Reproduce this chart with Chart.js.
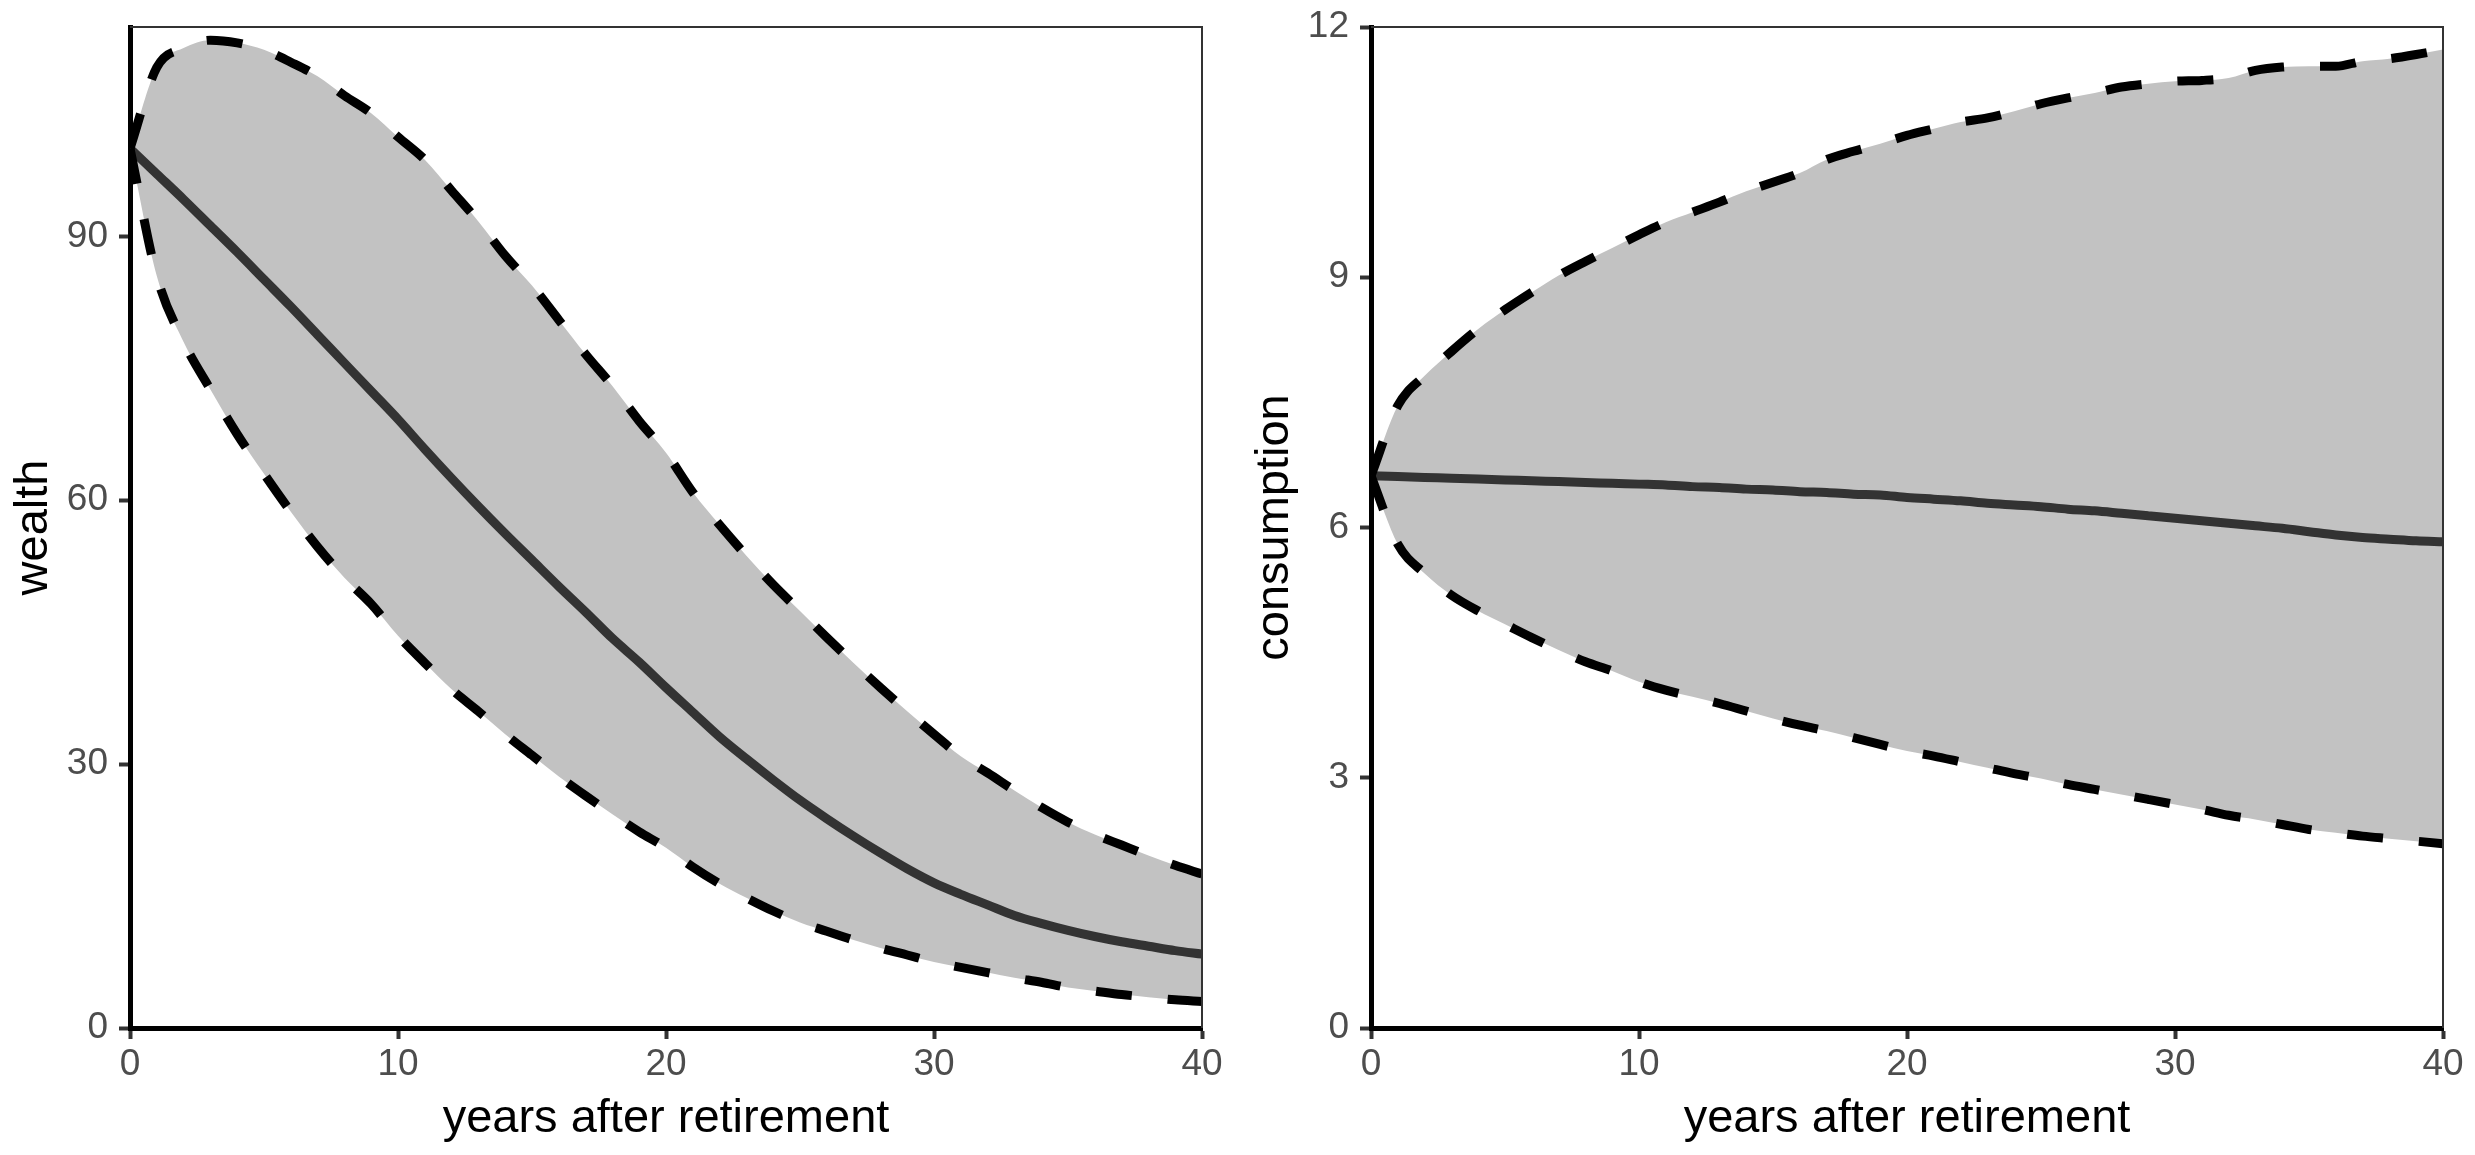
<!DOCTYPE html>
<html>
<head>
<meta charset="utf-8">
<script src="https://cdn.jsdelivr.net/npm/chart.js@4.4.1/dist/chart.umd.min.js"></script>
<style>
  html, body { margin: 0; padding: 0; background: #fff; }
  body { width: 2475px; height: 1155px; position: relative; overflow: hidden; }
  canvas { position: absolute; top: 0; }
  #wealthChart { left: 0; }
  #consChart { left: 1241px; }
</style>
</head>
<body>
<canvas id="wealthChart" width="1237" height="1155"></canvas>
<canvas id="consChart" width="1234" height="1155"></canvas>
<script>
// years after retirement
const years = [0, 1, 2, 3, 4, 5, 6, 7, 8, 9, 10, 11, 12, 13, 14, 15, 16, 17, 18, 19, 20,
               21, 22, 23, 24, 25, 26, 27, 28, 29, 30, 31, 32, 33, 34, 35, 36, 37, 38, 39, 40];

// wealth: upper band, median, lower band
const wealthUpper = [100, 109.2, 111.4, 112.3, 112, 111.2, 109.8, 108.2, 106, 104, 101.3,
                     98.7, 95.2, 91.7, 87.8, 84.4, 80.5, 76.6, 73, 69, 65.4,
                     60.9, 57.2, 53.7, 50.4, 47.4, 44.4, 41.5, 38.7, 36, 33.4,
                     30.9, 29, 27, 25.1, 23.4, 22, 20.8, 19.6, 18.5, 17.5];
const wealthMid = [100, 97.1, 94.2, 91.2, 88.2, 85.1, 82, 78.8, 75.6, 72.4, 69.2,
                   65.8, 62.5, 59.3, 56.2, 53.2, 50.2, 47.3, 44.3, 41.6, 38.7,
                   35.9, 33.1, 30.6, 28.2, 25.9, 23.8, 21.8, 19.9, 18.1, 16.5,
                   15.2, 14, 12.8, 11.9, 11.1, 10.4, 9.8, 9.3, 8.8, 8.4];
const wealthLower = [100, 85.5, 78, 72.6, 67.5, 63, 58.7, 54.7, 51.2, 48.2, 44.6,
                     41.5, 38.5, 36, 33.4, 31, 28.6, 26.4, 24.3, 22.3, 20.5,
                     18.3, 16.4, 14.8, 13.3, 12, 11, 10, 9.1, 8.3, 7.5,
                     6.9, 6.3, 5.7, 5.2, 4.6, 4.2, 3.8, 3.5, 3.2, 3.0];

// consumption: upper band, median, lower band
const consUpper = [6.62, 7.46, 7.82, 8.11, 8.38, 8.61, 8.82, 9.02, 9.19, 9.35, 9.51,
                   9.66, 9.78, 9.9, 10.03, 10.14, 10.25, 10.41, 10.51, 10.6, 10.7,
                   10.78, 10.86, 10.91, 10.99, 11.08, 11.15, 11.21, 11.28, 11.32, 11.35,
                   11.36, 11.39, 11.48, 11.52, 11.53, 11.53, 11.59, 11.62, 11.67, 11.73];
const consMid = [6.62, 6.61, 6.6, 6.59, 6.58, 6.57, 6.56, 6.55, 6.54, 6.53, 6.52,
                 6.51, 6.49, 6.48, 6.46, 6.45, 6.43, 6.42, 6.4, 6.39, 6.36,
                 6.34, 6.32, 6.29, 6.27, 6.25, 6.22, 6.2, 6.17, 6.14, 6.11,
                 6.08, 6.05, 6.02, 5.99, 5.95, 5.91, 5.88, 5.86, 5.84, 5.83];
const consLower = [6.62, 5.8, 5.45, 5.19, 5.0, 4.84, 4.68, 4.53, 4.39, 4.28, 4.15,
                   4.05, 3.97, 3.89, 3.8, 3.71, 3.63, 3.56, 3.48, 3.4, 3.32,
                   3.26, 3.19, 3.12, 3.05, 2.99, 2.92, 2.86, 2.8, 2.74, 2.68,
                   2.62, 2.55, 2.5, 2.44, 2.38, 2.34, 2.3, 2.27, 2.24, 2.21];

// tick labels
const yearTicks = [0, 10, 20, 30, 40];
const wealthTicks = [0, 30, 60, 90];
const consTicks = [0, 3, 6, 9, 12];

const FONT = "'Liberation Sans', Arial, Helvetica, sans-serif";

// thin frame on top and right of the panel
const frame = {
    id: 'frame',
    afterDatasetsDraw(chart) {
        const { ctx, chartArea: a } = chart;
        ctx.save();
        ctx.strokeStyle = '#333333';
        ctx.lineWidth = 2;
        ctx.beginPath();
        ctx.moveTo(a.left, a.top);
        ctx.lineTo(a.right, a.top);
        ctx.lineTo(a.right, a.bottom);
        ctx.stroke();
        ctx.restore();
    }
};

function panel(id, upper, mid, lower, yMax, yTicks, yTitle) {
    const canvas = document.getElementById(id);
    const pts = arr => arr.map((v, i) => ({ x: years[i], y: v }));
    const line = { pointRadius: 0, cubicInterpolationMode: 'monotone', borderWidth: 9 };
    return new Chart(canvas.getContext('2d'), {
        type: 'line',
        data: {
            datasets: [
                { ...line, data: pts(upper), borderColor: '#000000', borderDash: [36, 36],
                  fill: 1, backgroundColor: '#C2C2C2' },
                { ...line, data: pts(lower), borderColor: '#000000', borderDash: [36, 36], fill: false },
                { ...line, data: pts(mid), borderColor: '#333333', fill: false }
            ]
        },
        options: {
            responsive: false,
            animation: false,
            devicePixelRatio: 1,
            layout: { padding: { top: 27, right: canvas.width - 1202, left: 0, bottom: 0 } },
            plugins: {
                legend: { display: false },
                tooltip: { enabled: false },
                filler: { drawTime: 'beforeDatasetsDraw' }
            },
            scales: {
                x: {
                    type: 'linear', min: 0, max: 40,
                    afterFit: s => { s.height = 127; s.paddingLeft = 0; s.paddingRight = 0; },
                    afterBuildTicks: s => { s.ticks = yearTicks.map(v => ({ value: v })); },
                    grid: { drawOnChartArea: false, tickLength: 11, tickWidth: 4, tickColor: '#333333' },
                    border: { color: '#000000', width: 5 },
                    ticks: { color: '#4D4D4D', font: { size: 37, family: FONT }, padding: 4, maxRotation: 0 },
                    title: { display: true, text: 'years after retirement', color: '#000000',
                             font: { size: 47, family: FONT }, padding: { top: 0, bottom: 8 } }
                },
                y: {
                    min: 0, max: yMax,
                    afterFit: s => { s.width = 130; s.paddingTop = 0; s.paddingBottom = 0; },
                    afterBuildTicks: s => { s.ticks = yTicks.map(v => ({ value: v })); },
                    grid: { drawOnChartArea: false, tickLength: 11, tickWidth: 4, tickColor: '#333333' },
                    border: { color: '#000000', width: 5 },
                    ticks: { color: '#4D4D4D', font: { size: 37, family: FONT }, padding: 11 },
                    title: { display: true, text: yTitle, color: '#000000',
                             font: { size: 47, family: FONT }, padding: { top: 6, bottom: 0 } }
                }
            }
        },
        plugins: [frame]
    });
}

panel('wealthChart', wealthUpper, wealthMid, wealthLower, 113.8, wealthTicks, 'wealth');
panel('consChart', consUpper, consMid, consLower, 12, consTicks, 'consumption');
</script>
</body>
</html>
